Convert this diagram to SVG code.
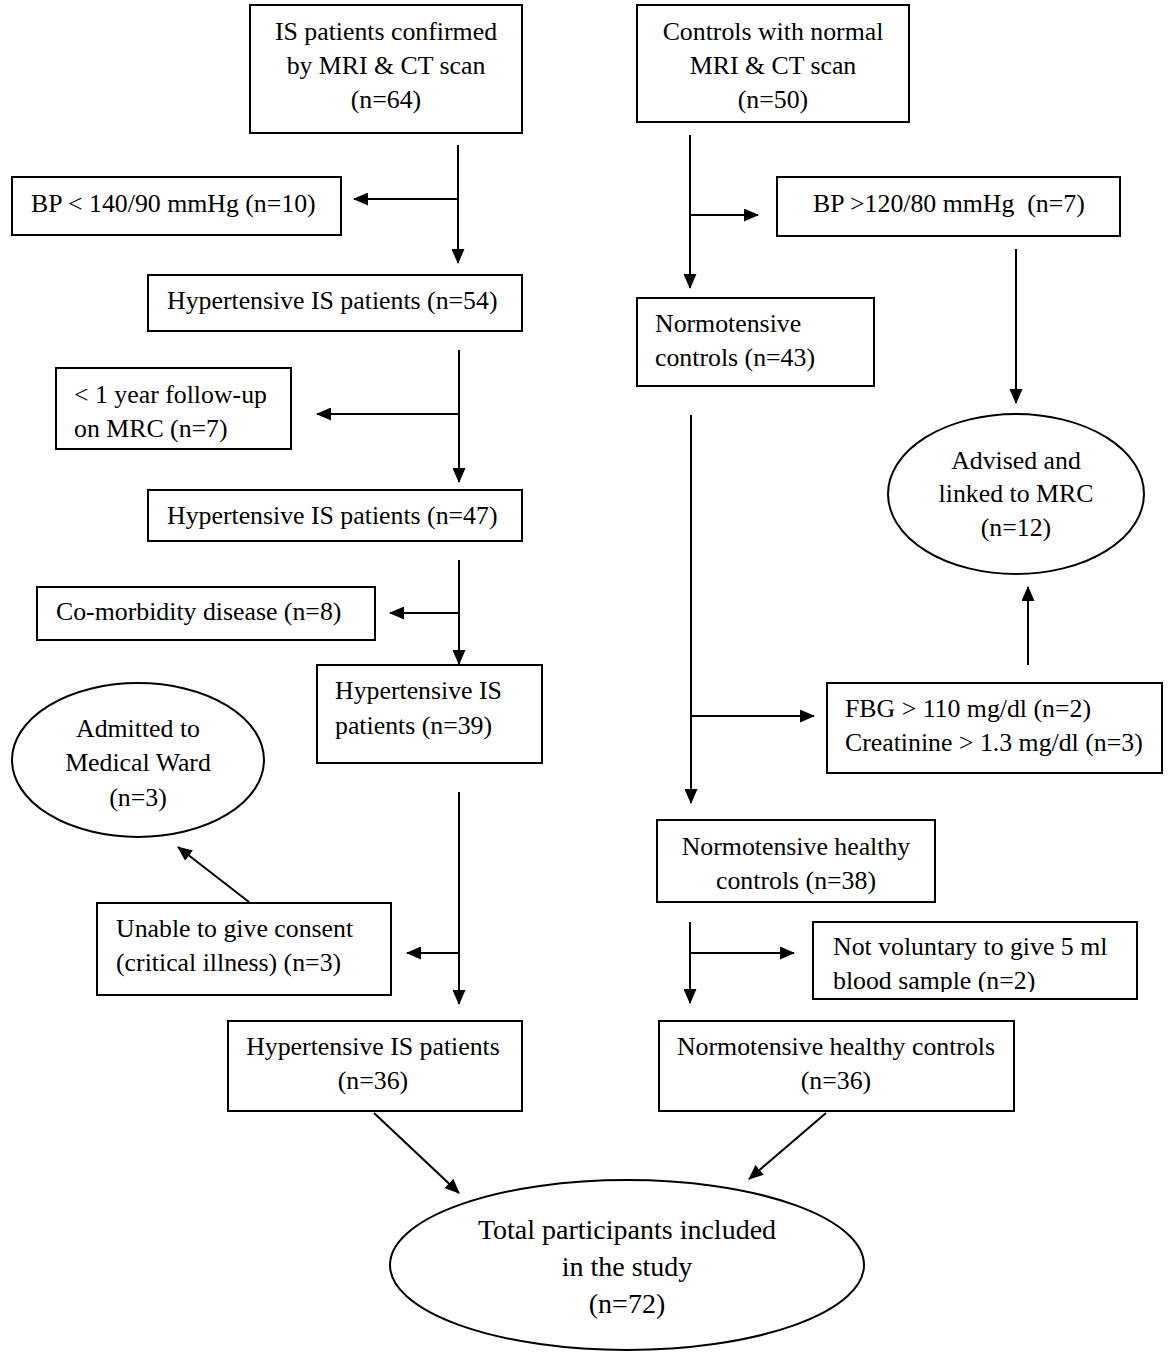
<svg xmlns="http://www.w3.org/2000/svg" width="1170" height="1359" viewBox="0 0 1170 1359">
<style>
.box{fill:#fff;stroke:#000;stroke-width:2}
.t{font-family:"Liberation Serif","Times New Roman",serif;font-size:25.8px;fill:#000}
.c{text-anchor:middle}
.big{font-size:28px}
.ln{stroke:#000;stroke-width:2;fill:none}
.a{marker-end:url(#ah)}
</style>
<defs>
<marker id="ah" markerUnits="userSpaceOnUse" markerWidth="15" markerHeight="13" refX="14" refY="6.5" orient="auto">
<path d="M0,0 L15,6.5 L0,13 Z" fill="#000"/>
</marker>
<clipPath id="clipNV"><rect x="813" y="922" width="324" height="70"/></clipPath>
</defs>
<rect width="1170" height="1359" fill="#fff"/>

<g id="connectors">
<line class="ln a" x1="458" y1="145" x2="458" y2="263"/>
<line class="ln a" x1="458" y1="199" x2="354" y2="199"/>
<line class="ln a" x1="459" y1="350" x2="459" y2="482"/>
<line class="ln a" x1="459" y1="414" x2="317" y2="414"/>
<line class="ln a" x1="459" y1="560" x2="459" y2="664"/>
<line class="ln a" x1="459" y1="613" x2="390" y2="613"/>
<line class="ln a" x1="459" y1="792" x2="459" y2="1004"/>
<line class="ln a" x1="459" y1="953" x2="407" y2="953"/>
<line class="ln a" x1="249" y1="902" x2="178" y2="847"/>
<line class="ln a" x1="374" y1="1113" x2="459" y2="1193"/>
<line class="ln a" x1="826" y1="1113" x2="749" y2="1179"/>
<line class="ln a" x1="690" y1="135" x2="690" y2="288"/>
<line class="ln a" x1="690" y1="215" x2="758" y2="215"/>
<line class="ln a" x1="1016" y1="249" x2="1016" y2="403"/>
<line class="ln a" x1="691" y1="415" x2="691" y2="803"/>
<line class="ln a" x1="691" y1="716" x2="814" y2="716"/>
<line class="ln a" x1="1028" y1="665" x2="1028" y2="587"/>
<line class="ln a" x1="690" y1="922" x2="690" y2="1003"/>
<line class="ln a" x1="690" y1="953" x2="794" y2="953"/>
</g>

<g id="is-confirmed">
<rect class="box" x="250" y="5" width="272" height="128"/>
<text class="t c" x="386" y="40">IS patients confirmed</text>
<text class="t c" x="386" y="74">by MRI &amp; CT scan</text>
<text class="t c" x="386" y="108">(n=64)</text>
</g>
<g id="controls-normal">
<rect class="box" x="637" y="5" width="272" height="117"/>
<text class="t c" x="773" y="40">Controls with normal</text>
<text class="t c" x="773" y="74">MRI &amp; CT scan</text>
<text class="t c" x="773" y="108">(n=50)</text>
</g>
<g id="bp-140">
<rect class="box" x="12" y="177" width="329" height="58"/>
<text class="t" x="31" y="212">BP &lt; 140/90 mmHg (n=10)</text>
</g>
<g id="hyp-54">
<rect class="box" x="148" y="275" width="374" height="56"/>
<text class="t" x="167" y="309">Hypertensive IS patients (n=54)</text>
</g>
<g id="followup">
<rect class="box" x="56" y="368" width="235" height="81"/>
<text class="t" x="74" y="403">&lt; 1 year follow-up</text>
<text class="t" x="74" y="437">on MRC (n=7)</text>
</g>
<g id="hyp-47">
<rect class="box" x="148" y="490" width="374" height="51"/>
<text class="t" x="167" y="524">Hypertensive IS patients (n=47)</text>
</g>
<g id="comorbidity">
<rect class="box" x="37" y="587" width="338" height="53"/>
<text class="t" x="56" y="620">Co-morbidity disease (n=8)</text>
</g>
<g id="hyp-39">
<rect class="box" x="317" y="665" width="225" height="98"/>
<text class="t" x="335" y="699">Hypertensive IS</text>
<text class="t" x="335" y="734">patients (n=39)</text>
</g>
<g id="admitted">
<ellipse class="box" cx="138" cy="760" rx="126" ry="77"/>
<text class="t c" x="138" y="737">Admitted to</text>
<text class="t c" x="138" y="771">Medical Ward</text>
<text class="t c" x="138" y="806">(n=3)</text>
</g>
<g id="unable">
<rect class="box" x="97" y="903" width="294" height="92"/>
<text class="t" x="116" y="937">Unable to give consent</text>
<text class="t" x="116" y="971">(critical illness) (n=3)</text>
</g>
<g id="hyp-36">
<rect class="box" x="228" y="1021" width="294" height="90"/>
<text class="t c" x="373" y="1055">Hypertensive IS patients</text>
<text class="t c" x="373" y="1089">(n=36)</text>
</g>
<g id="bp-120">
<rect class="box" x="777" y="177" width="343" height="59"/>
<text class="t" x="813" y="212" xml:space="preserve">BP &gt;120/80 mmHg  (n=7)</text>
</g>
<g id="normo-43">
<rect class="box" x="637" y="298" width="237" height="88"/>
<text class="t" x="655" y="332">Normotensive</text>
<text class="t" x="655" y="366">controls (n=43)</text>
</g>
<g id="advised">
<ellipse class="box" cx="1016" cy="494" rx="128" ry="80"/>
<text class="t c" x="1016" y="469">Advised and</text>
<text class="t c" x="1016" y="502">linked to MRC</text>
<text class="t c" x="1016" y="536">(n=12)</text>
</g>
<g id="fbg">
<rect class="box" x="827" y="683" width="335" height="90"/>
<text class="t" x="845" y="717">FBG &gt; 110 mg/dl (n=2)</text>
<text class="t" x="845" y="751">Creatinine &gt; 1.3 mg/dl (n=3)</text>
</g>
<g id="normo-38">
<rect class="box" x="657" y="820" width="278" height="82"/>
<text class="t c" x="796" y="855">Normotensive healthy</text>
<text class="t c" x="796" y="889">controls (n=38)</text>
</g>
<g id="not-voluntary">
<rect class="box" x="813" y="922" width="324" height="77"/>
<g clip-path="url(#clipNV)">
<text class="t" x="833" y="955">Not voluntary to give 5 ml</text>
<text class="t" x="833" y="989">blood sample (n=2)</text>
</g>
</g>
<g id="normo-36">
<rect class="box" x="659" y="1021" width="355" height="90"/>
<text class="t c" x="836" y="1055">Normotensive healthy controls</text>
<text class="t c" x="836" y="1089">(n=36)</text>
</g>
<g id="total">
<ellipse class="box" cx="627" cy="1265" rx="237" ry="85"/>
<text class="t c big" x="627" y="1239">Total participants included</text>
<text class="t c big" x="627" y="1276">in the study</text>
<text class="t c big" x="627" y="1313">(n=72)</text>
</g>
</svg>
